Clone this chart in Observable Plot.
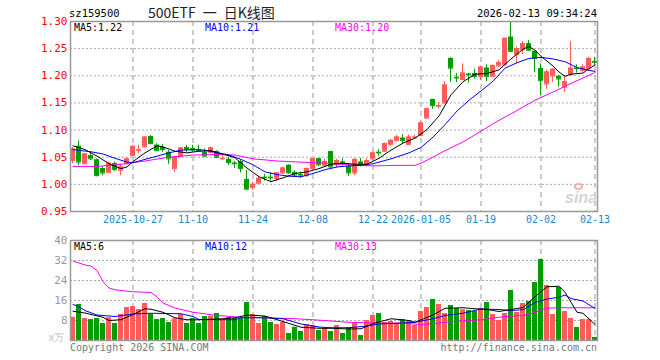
<!DOCTYPE html>
<html><head><meta charset="utf-8">
<script src="https://cdn.jsdelivr.net/npm/d3@7"></script>
<script src="https://cdn.jsdelivr.net/npm/@observablehq/plot@0.6"></script>
<style>
body{margin:0;background:#fff;}
#wrap{position:relative;width:660px;height:360px;overflow:hidden;font-family:"DejaVu Sans Mono",monospace;}
#wrap svg{position:absolute;left:0;}
.t{position:absolute;white-space:nowrap;font-size:10px;line-height:12px;}
</style></head><body><div id="wrap"></div>
<script>
// ---- data ----
const dates = ["2025-10-13","2025-10-14","2025-10-15","2025-10-16","2025-10-17","2025-10-20","2025-10-21","2025-10-22","2025-10-23","2025-10-24",
"2025-10-27","2025-10-28","2025-10-29","2025-10-30","2025-10-31","2025-11-03","2025-11-04","2025-11-05","2025-11-06","2025-11-07",
"2025-11-10","2025-11-11","2025-11-12","2025-11-13","2025-11-14","2025-11-17","2025-11-18","2025-11-19","2025-11-20","2025-11-21",
"2025-11-24","2025-11-25","2025-11-26","2025-11-27","2025-11-28","2025-12-01","2025-12-02","2025-12-03","2025-12-04","2025-12-05",
"2025-12-08","2025-12-09","2025-12-10","2025-12-11","2025-12-12","2025-12-15","2025-12-16","2025-12-17","2025-12-18","2025-12-19",
"2025-12-22","2025-12-23","2025-12-24","2025-12-25","2025-12-26","2025-12-29","2025-12-30","2025-12-31","2026-01-05","2026-01-06",
"2026-01-07","2026-01-08","2026-01-09","2026-01-12","2026-01-13","2026-01-14","2026-01-15","2026-01-16","2026-01-19","2026-01-20",
"2026-01-21","2026-01-22","2026-01-23","2026-01-26","2026-01-27","2026-01-28","2026-01-29","2026-01-30","2026-02-02","2026-02-03",
"2026-02-04","2026-02-05","2026-02-06","2026-02-09","2026-02-10","2026-02-11","2026-02-12","2026-02-13"];
const open = [1.044,1.070,1.038,1.053,1.045,1.029,1.022,1.038,1.026,1.038,
1.053,1.063,1.069,1.088,1.072,1.068,1.059,1.029,1.051,1.068,
1.066,1.064,1.059,1.059,1.060,1.047,1.046,1.039,1.042,1.009,
0.994,1.002,1.013,1.013,1.011,1.021,1.035,1.022,1.018,1.016,
1.029,1.047,1.035,1.060,1.036,1.041,1.033,1.021,1.041,1.035,
1.047,1.059,1.061,1.073,1.081,1.085,1.073,1.086,1.090,1.122,
1.156,1.144,1.150,1.232,1.197,1.193,1.203,1.204,1.199,1.214,
1.199,1.218,1.220,1.271,1.239,1.248,1.259,1.245,1.213,1.185,
1.200,1.199,1.179,1.202,1.214,1.210,1.213,1.226];
const high = [1.068,1.080,1.057,1.059,1.047,1.032,1.041,1.041,1.037,1.049,
1.071,1.072,1.088,1.090,1.075,1.073,1.062,1.051,1.068,1.072,
1.072,1.072,1.065,1.069,1.062,1.052,1.050,1.042,1.044,1.026,
1.004,1.015,1.018,1.022,1.022,1.032,1.036,1.025,1.022,1.030,
1.048,1.048,1.046,1.061,1.046,1.047,1.038,1.047,1.048,1.047,
1.059,1.064,1.076,1.083,1.090,1.091,1.091,1.091,1.115,1.140,
1.157,1.151,1.189,1.233,1.204,1.222,1.204,1.212,1.218,1.220,
1.220,1.228,1.269,1.300,1.253,1.263,1.265,1.245,1.222,1.210,
1.213,1.200,1.200,1.263,1.220,1.220,1.234,1.234];
const low = [1.038,1.035,1.036,1.044,1.014,1.016,1.021,1.024,1.016,1.036,
1.053,1.056,1.067,1.073,1.061,1.059,1.037,1.022,1.050,1.059,
1.060,1.059,1.050,1.057,1.048,1.044,1.035,1.029,1.021,0.989,
0.989,1.000,1.006,1.006,1.005,1.018,1.019,1.013,1.011,1.013,
1.026,1.033,1.033,1.030,1.030,1.034,1.015,1.016,1.032,1.032,
1.045,1.052,1.059,1.071,1.078,1.075,1.072,1.083,1.089,1.120,
1.138,1.139,1.148,1.188,1.187,1.191,1.187,1.194,1.191,1.189,
1.199,1.216,1.220,1.243,1.222,1.239,1.245,1.206,1.164,1.175,
1.188,1.179,1.169,1.202,1.205,1.207,1.212,1.219];
const close = [1.065,1.041,1.056,1.047,1.016,1.021,1.039,1.027,1.032,1.047,
1.070,1.064,1.087,1.075,1.062,1.064,1.047,1.050,1.067,1.064,
1.063,1.062,1.052,1.067,1.050,1.048,1.040,1.038,1.029,0.991,
1.000,1.011,1.012,1.012,1.021,1.030,1.021,1.017,1.017,1.029,
1.047,1.036,1.042,1.032,1.044,1.040,1.021,1.046,1.036,1.044,
1.058,1.058,1.075,1.081,1.087,1.081,1.087,1.087,1.113,1.139,
1.145,1.145,1.183,1.214,1.196,1.205,1.202,1.199,1.216,1.199,
1.219,1.224,1.269,1.245,1.250,1.259,1.247,1.232,1.191,1.207,
1.212,1.194,1.189,1.214,1.213,1.216,1.232,1.225];
// volume, 万
const volume = [9.3,14.4,8.8,8.4,8.8,6.8,9.1,6.8,10.4,13.2,
13.6,12.4,14.8,10.5,8.4,8.8,7.2,8.7,10.4,6.8,
8.8,6.8,9.6,9.7,10.8,8.0,9.2,8.8,8.8,15.2,
10.4,6.8,9.6,7.2,6.4,7.2,2.8,5.3,3.6,6.4,
6.0,4.0,4.8,3.6,6.0,2.8,5.1,7.1,2.0,8.0,
10.0,10.8,7.2,7.6,6.9,8.3,7.6,6.0,11.6,13.2,
16.4,14.4,10.8,14.0,12.8,12.3,12.0,11.7,12.8,15.2,
10.4,8.0,10.8,20.0,11.2,14.8,15.6,23.2,32.4,22.0,
10.4,21.2,11.6,8.8,5.2,8.4,8.4,1.2];
// moving-average lines (index into dates, value)
const ma5Idx = [0,2,4,6,8,9,10,12,14,15,17,19,21,23,25,27,29,31,33,35,37,39,41,43,45,47,49,51,53,55,57,59,61,63,65,67,69,71,73,75,76,77,78,79,80,81,82,83,84,85,86,87];
const ma5Val = [1.071,1.064,1.052,1.038,1.029,1.032,1.042,1.058,1.071,1.069,1.061,1.058,1.061,1.062,1.056,1.049,1.030,1.014,1.005,1.012,1.020,1.023,1.029,1.037,1.039,1.037,1.037,1.048,1.063,1.076,1.085,1.101,1.126,1.165,1.189,1.203,1.204,1.211,1.231,1.249,1.254,1.247,1.236,1.227,1.218,1.207,1.199,1.203,1.204,1.205,1.213,1.220];
const ma10Idx = [0,3,5,7,9,10,12,14,16,18,20,22,24,26,28,30,32,34,36,38,40,42,44,46,48,50,53,56,58,60,62,64,66,68,70,72,74,76,78,80,82,84,86,87];
const ma10Val = [1.064,1.060,1.056,1.048,1.041,1.040,1.046,1.052,1.058,1.063,1.064,1.063,1.058,1.054,1.046,1.036,1.023,1.018,1.015,1.014,1.020,1.027,1.032,1.034,1.035,1.038,1.047,1.058,1.068,1.087,1.110,1.135,1.155,1.172,1.190,1.214,1.224,1.232,1.234,1.231,1.226,1.215,1.210,1.208];
const ma30Idx = [0,4,8,12,16,20,24,27,30,34,38,42,46,50,54,57,58,60,62,65,68,71,74,77,80,83,85,87];
const ma30Val = [1.033,1.033,1.037,1.043,1.050,1.054,1.055,1.054,1.047,1.043,1.041,1.039,1.036,1.034,1.035,1.035,1.039,1.050,1.062,1.078,1.098,1.118,1.136,1.155,1.170,1.186,1.196,1.206];
const vma5Idx = [0,2,5,6,8,10,12,13,15,17,19,21,25,27,29,32,35,38,41,43,46,48,50,53,56,57,60,62,65,67,69,71,73,75,77,79,81,82,84,85,87];
const vma5Val = [11.7,11.0,9.3,8.0,8.3,10.4,12.7,12.5,11.3,9.1,8.3,8.3,8.7,9.1,10.2,9.8,7.6,5.3,4.9,4.9,4.6,4.7,6.8,8.7,8.0,7.3,10.2,12.9,13.1,12.7,12.4,11.6,12.4,13.2,17.5,21.5,21.7,19.3,11.3,10.9,6.4];
const vma10Idx = [0,1,2,4,7,10,13,18,20,21,27,28,32,35,38,41,43,46,49,51,54,57,60,62,65,68,71,73,75,77,79,81,82,83,85,87];
const vma10Val = [14.4,13.5,12.0,10.2,9.6,10.6,10.9,10.7,9.6,8.4,8.3,9.1,9.1,8.7,6.6,5.4,5.1,5.1,5.8,6.6,6.9,7.3,8.7,10.0,10.9,12.6,12.4,12.0,12.3,15.2,16.6,17.3,18.2,16.8,15.8,12.8];
const vma30Idx = [0,1,2,3,4,5,6,7,8,10,13,14,15,17,20,24,28,32,37,40,43,46,50,55,58,60,64,68,72,75,77,79,82,87];
const vma30Val = [31.8,31.0,30.2,29.8,28.0,23.5,21.0,20.3,20.0,19.5,19.2,17.5,15.0,13.0,11.3,10.0,9.3,9.1,8.7,8.3,7.8,7.3,7.0,6.9,6.4,6.8,7.7,8.3,9.6,10.0,11.3,13.0,13.1,13.1];
// axes
const tickDates = ["2025-10-27","2025-11-10","2025-11-24","2025-12-08","2025-12-22","2026-01-05","2026-01-19","2026-02-02","2026-02-13"];
const tickLabels = ["2025-10-27","11-10","11-24","12-08","12-22","2026-01-05","01-19","02-02","02-13"];
const priceTicks = [1.30,1.25,1.20,1.15,1.10,1.05,1.00,0.95];
const volTicks = [40,32,24,16,8];
const priceMaLabels = ["MA5:1.22","MA10:1.21","MA30:1.20"];
const volMaLabels = ["MA5:6","MA10:12","MA30:13"];

// ---- build ----
const RED = "#ff5b5b", GREEN = "#009e00";
const MA_COLORS = ["#000000","#0000ff","#ff00ff"];
const candles = dates.map((d,i)=>({d,o:open[i],h:high[i],l:low[i],c:close[i],v:volume[i],col:close[i]>=open[i]?RED:GREEN}));
const pts = (idx,val)=>idx.map((k,j)=>({d:dates[k],v:val[j]}));
const xOpt = {type:"band",domain:dates,paddingInner:1/6,paddingOuter:0,axis:null};
const font = "DejaVu Sans Mono, monospace";
const common = {width:660,marginLeft:70,marginRight:63,x:xOpt,color:{type:"identity"},
  style:{fontFamily:font,fontSize:"10px",background:"transparent",overflow:"visible"}};
const vgrid = ()=>Plot.ruleX(tickDates,{x:d=>d,stroke:"#bbb",strokeWidth:1.5,strokeDasharray:"5,4"});

const price = Plot.plot({...common,height:230,marginTop:21,marginBottom:19,
  y:{domain:[0.95,1.30],axis:null},
  marks:[
    Plot.ruleY(priceTicks.slice(1,-1),{y:d=>d,stroke:"#aaa",strokeDasharray:"2,2"}),
    vgrid(),
    Plot.ruleX(candles,{x:"d",y1:"l",y2:"h",stroke:"col",dx:-0.5}),
    Plot.barY(candles,{x:"d",y1:"o",y2:"c",fill:"col"}),
    Plot.tickY(candles,{x:"d",y:"o",stroke:"col"}),
    Plot.tickY(candles,{x:"d",y:"c",stroke:"col"}),
    Plot.line(pts(ma30Idx,ma30Val),{x:"d",y:"v",stroke:MA_COLORS[2],strokeWidth:1}),
    Plot.line(pts(ma10Idx,ma10Val),{x:"d",y:"v",stroke:MA_COLORS[1],strokeWidth:1}),
    Plot.line(pts(ma5Idx,ma5Val),{x:"d",y:"v",stroke:MA_COLORS[0],strokeWidth:1}),
    Plot.frame({stroke:"#999",strokeWidth:1.5}),
    Plot.text(priceTicks,{y:d=>d,text:d=>d.toFixed(2),frameAnchor:"left",textAnchor:"end",dx:-3,fill:"#ff0000",fontSize:11}),
    Plot.text(tickDates,{x:d=>d,text:(d,i)=>tickLabels[i],frameAnchor:"bottom",lineAnchor:"top",dy:4,fill:"#1a86d0",fontSize:10})
  ]});

const vol = Plot.plot({...common,height:130,marginTop:10,marginBottom:20,
  y:{domain:[0,40],axis:null},
  marks:[
    Plot.ruleY(volTicks.slice(1),{y:d=>d,stroke:"#aaa",strokeDasharray:"2,2"}),
    vgrid(),
    Plot.barY(candles,{x:"d",y:"v",fill:"col"}),
    Plot.line(pts(vma30Idx,vma30Val),{x:"d",y:"v",stroke:MA_COLORS[2],strokeWidth:1}),
    Plot.line(pts(vma10Idx,vma10Val),{x:"d",y:"v",stroke:MA_COLORS[1],strokeWidth:1}),
    Plot.line(pts(vma5Idx,vma5Val),{x:"d",y:"v",stroke:MA_COLORS[0],strokeWidth:1}),
    Plot.frame({stroke:"#999",strokeWidth:1.5}),
    Plot.text(volTicks,{y:d=>d,text:d=>String(d),frameAnchor:"left",textAnchor:"end",dx:-3,fill:"#999",fontSize:11}),
    Plot.text([0],{y:d=>d,text:()=>"x万",frameAnchor:"left",textAnchor:"end",dx:-6,dy:-3,fill:"#bbb",fontSize:10})
  ]});

const wrap = document.getElementById("wrap");
price.style.top = "0px"; vol.style.top = "230px";
wrap.appendChild(price); wrap.appendChild(vol);

function addText(txt, css){
  const s = document.createElement("div"); s.className = "t"; s.textContent = txt;
  Object.assign(s.style, css); wrap.appendChild(s); return s;
}
addText("sz159500",{left:"69px",top:"7px",fontSize:"10.5px",color:"#000"});
addText("500ETF\u2002一\u2002日K线图",{left:"148px",top:"3px",fontSize:"14px",lineHeight:"18px",fontFamily:"'Noto Sans CJK SC',sans-serif",color:"#222"});
addText("2026-02-13 09:34:24",{right:"63px",top:"7px",fontSize:"10.5px",color:"#000"});
const maLeft = [74,205,335];
priceMaLabels.forEach((t,i)=>addText(t,{left:maLeft[i]+"px",top:"22px",color:MA_COLORS[i]}));
volMaLabels.forEach((t,i)=>addText(t,{left:maLeft[i]+"px",top:"241px",color:MA_COLORS[i]}));
addText("Copyright 2026 SINA.COM",{left:"70px",top:"342px",color:"#777"});
addText("http://finance.sina.com.cn",{right:"63px",top:"342px",color:"#777"});
// sina watermark (logo eye drawn as a shape, wordmark as text)
const eye = document.createElement("div");
Object.assign(eye.style,{position:"absolute",left:"574px",top:"183px",width:"9px",height:"7px",borderRadius:"50%",border:"2px solid #f4b0b0",boxSizing:"border-box"});
wrap.appendChild(eye);
addText("sina",{left:"565px",top:"190px",fontSize:"16px",lineHeight:"16px",fontFamily:"'Liberation Sans',sans-serif",fontWeight:"bold",fontStyle:"italic",color:"#d4d4d4"});
</script></body></html>
